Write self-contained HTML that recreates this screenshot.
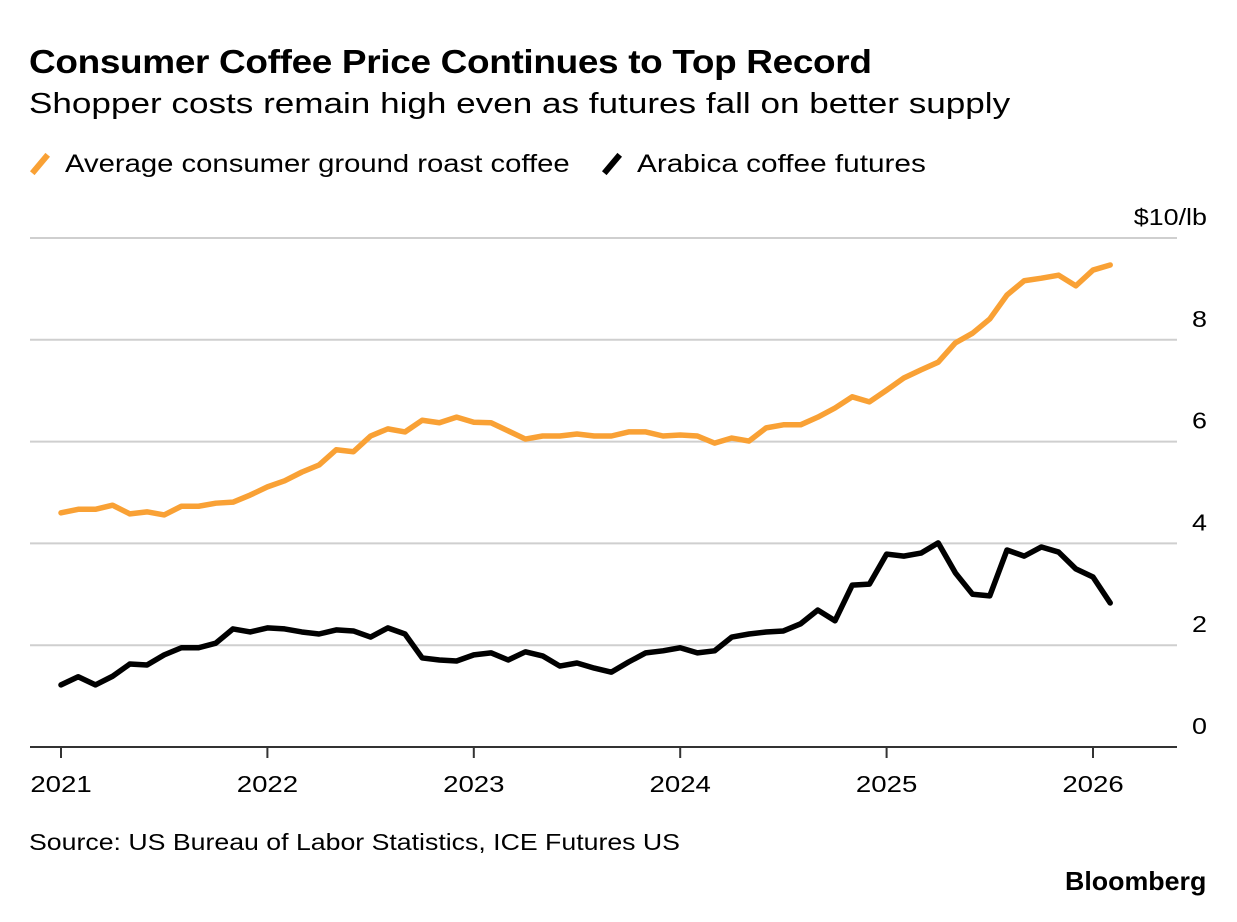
<!DOCTYPE html>
<html><head><meta charset="utf-8"><style>
body{margin:0;background:#fff;font-family:"Liberation Sans",Arial,sans-serif;}
#wrap{position:relative;width:1237px;height:922px;overflow:hidden;}
.t{position:absolute;white-space:nowrap;color:#000;transform-origin:0 0;}
</style></head><body>
<div id="wrap">
<div class="t" style="left:29px;top:43px;font-size:33px;font-weight:bold;letter-spacing:-0.3px;transform:scaleX(1.12)">Consumer Coffee Price Continues to Top Record</div>
<div class="t" style="left:29px;top:88px;font-size:29px;transform:scaleX(1.21)">Shopper costs remain high even as futures fall on better supply</div>
<div class="t" style="left:29px;top:150px;font-size:25px"><span style="display:inline-block;width:6px;height:24px;background:#f9a135;transform:rotate(40deg);vertical-align:-4px;margin:0 22px 0 8px"></span><span style="display:inline-block;transform:scaleX(1.17);transform-origin:0 0">Average consumer ground roast coffee</span></div>
<div class="t" style="left:601px;top:150px;font-size:25px"><span style="display:inline-block;width:6px;height:24px;background:#000;transform:rotate(40deg);vertical-align:-4px;margin:0 22px 0 8px"></span><span style="display:inline-block;transform:scaleX(1.19);transform-origin:0 0">Arabica coffee futures</span></div>
<svg id="chart" width="1237" height="922" style="position:absolute;left:0;top:0"></svg>
<div class="t" style="left:29px;top:829px;font-size:23px;transform:scaleX(1.16)">Source: US Bureau of Labor Statistics, ICE Futures US</div>
<div class="t" style="left:1065px;top:866px;font-size:26px;font-weight:bold;transform:scaleX(1.03)">Bloomberg</div>
</div>
<script>
const consumer=[4.6,4.67,4.67,4.75,4.58,4.62,4.56,4.73,4.73,4.79,4.81,4.95,5.11,5.23,5.4,5.54,5.84,5.8,6.11,6.25,6.19,6.42,6.37,6.48,6.38,6.37,6.21,6.05,6.11,6.11,6.15,6.11,6.11,6.19,6.19,6.11,6.13,6.11,5.97,6.07,6.01,6.27,6.33,6.33,6.48,6.66,6.88,6.78,7.01,7.25,7.41,7.56,7.94,8.13,8.41,8.88,9.16,9.21,9.27,9.06,9.37,9.47];
const futures=[1.22,1.38,1.22,1.39,1.63,1.61,1.81,1.95,1.95,2.04,2.32,2.26,2.34,2.32,2.26,2.22,2.3,2.28,2.16,2.34,2.22,1.75,1.71,1.69,1.81,1.85,1.71,1.87,1.79,1.59,1.65,1.55,1.47,1.67,1.85,1.89,1.95,1.85,1.89,2.16,2.22,2.26,2.28,2.42,2.69,2.48,3.18,3.2,3.79,3.75,3.81,4.01,3.42,3.0,2.97,3.87,3.75,3.93,3.83,3.5,3.34,2.83];
const yTicks=[0,2,4,6,8,10];
const yTickLabels=["0","2","4","6","8","$10/lb"];
const xTicks=[2021,2022,2023,2024,2025,2026];
const startYear=2021;
const svg=document.getElementById('chart');
const NS='http://www.w3.org/2000/svg';
function xs(m){return 61+m*(1093-61)/60;}
function ys(v){return 747-v*(747-238)/10;}
function el(t,a){const e=document.createElementNS(NS,t);for(const k in a)e.setAttribute(k,a[k]);svg.appendChild(e);return e;}
yTicks.forEach((v,i)=>{
  if(v>0){const g=el('line',{x1:30,x2:1177,y1:ys(v),y2:ys(v),stroke:'#cfcfcf','stroke-width':2});
  
  }
  const t=el('text',{x:0,y:0,transform:'translate(1207,'+(ys(v)-13)+') scale(1.17,1)','text-anchor':'end','font-size':23,'font-family':'Liberation Sans, sans-serif',fill:'#000'});
  t.textContent=yTickLabels[i];
  
  
});
const ax=el('line',{x1:30,x2:1177,y1:747,y2:747,stroke:'#333','stroke-width':2});


xTicks.forEach(yr=>{
  const x=xs((yr-startYear)*12);
  const tk=el('line',{x1:x,x2:x,y1:747,y2:758,stroke:'#333','stroke-width':2});
  
  
  const t=el('text',{x:0,y:0,transform:'translate('+x+',792) scale(1.2,1)','text-anchor':'middle','font-size':23,'font-family':'Liberation Sans, sans-serif',fill:'#000'});
  t.textContent=yr;
  
  
});
function line(d,c,name){
  const p=el('polyline',{points:d.map((v,i)=>xs(i)+','+ys(v)).join(' '),fill:'none',stroke:c,'stroke-width':5.5,'stroke-linejoin':'round','stroke-linecap':'round'});
  
  
}
line(consumer,'#f9a135','consumer-price-line');
line(futures,'#000','futures-price-line');
</script>
</body></html>
